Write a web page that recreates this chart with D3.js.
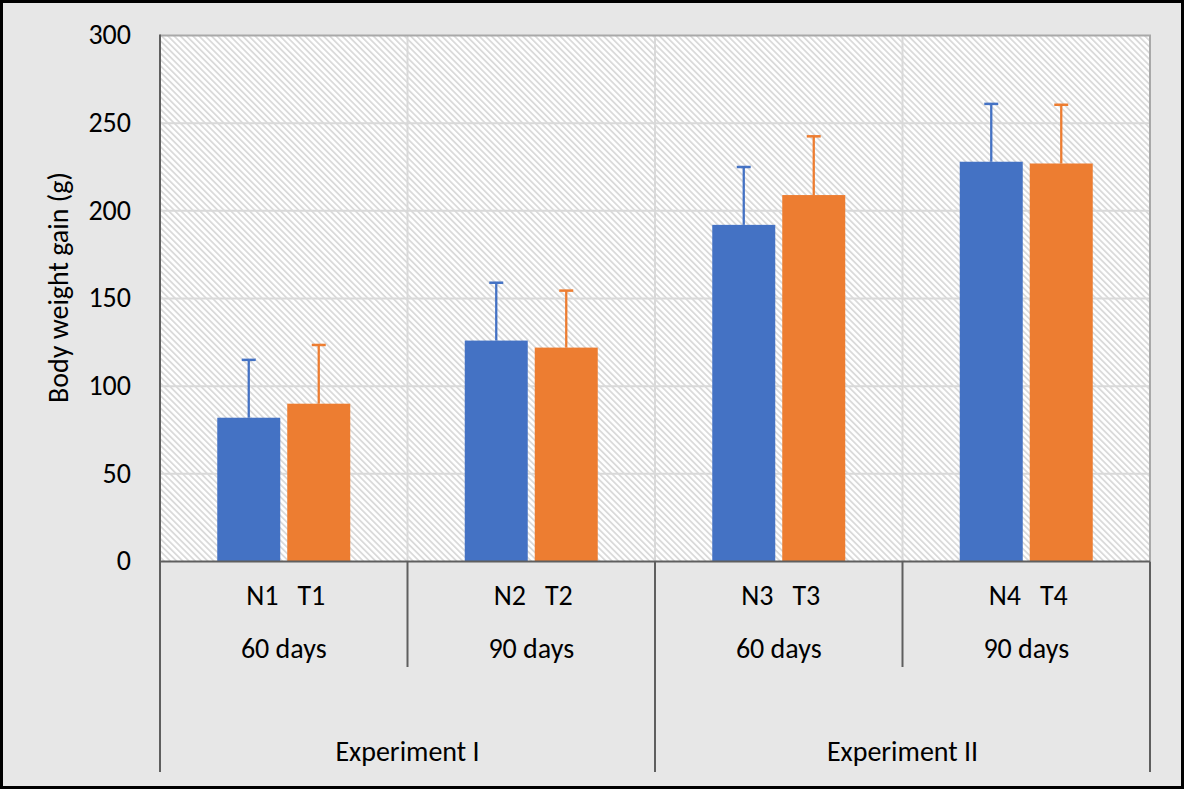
<!DOCTYPE html>
<html>
<head>
<meta charset="utf-8">
<script src="https://cdn.jsdelivr.net/npm/d3@7"></script>
<style>
  html, body { margin: 0; padding: 0; background: #fff; }
  svg { display: block; }
  text { font-family: Carlito, Calibri, "Open Sans", sans-serif; fill: #000; }
</style>
</head>
<body>
<svg id="chart" width="1184" height="789"></svg>
<script>
// ---- data ----
const groups = ["N1   T1", "N2   T2", "N3   T3", "N4   T4"];
const periods = ["60 days", "90 days", "60 days", "90 days"];
const experiments = ["Experiment I", "Experiment II"];
const seriesNames = ["N", "T"];
const valuesN = [82, 126, 192, 228];
const valuesT = [90, 122, 209, 227];
const errorsN = [33, 33, 33, 33];
const errorsT = [33.5, 32.5, 33.5, 33.5];
const yTicks = [0, 50, 100, 150, 200, 250, 300];
const yTitle = "Body weight gain (g)";

// ---- layout ----
const W = 1184, H = 789;
const plot = { left: 160, right: 1150, top: 35.5, bottom: 561.5 };
const colors = { N: "#4472C4", T: "#ED7D31" };
const axisColor = "#5f5f5f";
const gridColor = "#d9d9d9";
const fontSize = 28;

const svg = d3.select("#chart");

// background + outer border
svg.append("rect").attr("x", 0).attr("y", 0).attr("width", W).attr("height", H).attr("fill", "#e7e7e7");
svg.append("rect").attr("x", 1.5).attr("y", 1.5).attr("width", W - 3).attr("height", H - 3)
  .attr("fill", "none").attr("stroke", "#000").attr("stroke-width", 3);

// hatch pattern
const defs = svg.append("defs");
const pat = defs.append("pattern").attr("id", "hatch").attr("patternUnits", "userSpaceOnUse")
  .attr("width", 4.4).attr("height", 4.4).attr("patternTransform", "rotate(-45)");
pat.append("rect").attr("width", 4.4).attr("height", 4.4).attr("fill", "#ffffff");
pat.append("rect").attr("x", 0).attr("width", 1.8).attr("height", 4.4).attr("fill", "#dadada");

// scales
const x0 = d3.scaleBand().domain(groups).range([plot.left, plot.right]).padding(0);
const step = x0.bandwidth();
const x1 = d3.scaleBand().domain(seriesNames).range([0, step]).paddingInner(0.1).paddingOuter(0.818);
const y = d3.scaleLinear().domain([0, 300]).range([plot.bottom, plot.top]);
const xExp = d3.scaleBand().domain(experiments).range([plot.left, plot.right]).padding(0);

// plot area
svg.append("rect").attr("x", plot.left).attr("y", plot.top)
  .attr("width", plot.right - plot.left).attr("height", plot.bottom - plot.top)
  .attr("fill", "url(#hatch)");

// horizontal gridlines
svg.append("g").selectAll("line").data(yTicks.filter(d => d > 0 && d < 300)).join("line")
  .attr("x1", plot.left).attr("x2", plot.right)
  .attr("y1", d => y(d)).attr("y2", d => y(d))
  .attr("stroke", gridColor).attr("stroke-width", 2);

// vertical gridlines at group boundaries
svg.append("g").selectAll("line").data(groups.slice(1)).join("line")
  .attr("x1", d => x0(d)).attr("x2", d => x0(d))
  .attr("y1", plot.top).attr("y2", plot.bottom)
  .attr("stroke", gridColor).attr("stroke-width", 2);

// plot border (top & right)
svg.append("path")
  .attr("d", `M${plot.left},${plot.top}H${plot.right}V${plot.bottom}`)
  .attr("fill", "none").attr("stroke", "#a9a9a9").attr("stroke-width", 2);

// bars
const rows = groups.map((g, i) => ({
  group: g,
  items: [
    { s: "N", v: valuesN[i], e: errorsN[i] },
    { s: "T", v: valuesT[i], e: errorsT[i] }
  ]
}));

const gg = svg.append("g").selectAll("g").data(rows).join("g")
  .attr("transform", d => `translate(${x0(d.group)},0)`);

gg.selectAll("rect.bar").data(d => d.items).join("rect").attr("class", "bar")
  .attr("x", d => x1(d.s)).attr("width", x1.bandwidth())
  .attr("y", d => y(d.v)).attr("height", d => y(0) - y(d.v))
  .attr("fill", d => colors[d.s]);

// error bars (upper only)
const capW = 14;
gg.selectAll("line.err").data(d => d.items).join("line").attr("class", "err")
  .attr("x1", d => x1(d.s) + x1.bandwidth() / 2).attr("x2", d => x1(d.s) + x1.bandwidth() / 2)
  .attr("y1", d => y(d.v)).attr("y2", d => y(d.v + d.e))
  .attr("stroke", d => colors[d.s]).attr("stroke-width", 2.3);
gg.selectAll("line.cap").data(d => d.items).join("line").attr("class", "cap")
  .attr("x1", d => x1(d.s) + x1.bandwidth() / 2 - capW / 2).attr("x2", d => x1(d.s) + x1.bandwidth() / 2 + capW / 2)
  .attr("y1", d => y(d.v + d.e)).attr("y2", d => y(d.v + d.e))
  .attr("stroke", d => colors[d.s]).attr("stroke-width", 2.5);

// y axis ticks
const yAxis = d3.axisLeft(y).tickValues(yTicks).tickSize(0).tickPadding(29);
const ya = svg.append("g").attr("transform", `translate(${plot.left},0)`).call(yAxis);
ya.select(".domain").remove();
ya.selectAll("text").attr("font-size", fontSize).attr("font-family", null).attr("fill", "#000").attr("dy", "0.3em");

// axis lines
const bottomEnd = 772, subEnd = 667;
svg.append("line").attr("x1", plot.left).attr("x2", plot.left).attr("y1", plot.top - 1).attr("y2", bottomEnd)
  .attr("stroke", axisColor).attr("stroke-width", 2);
svg.append("line").attr("x1", plot.left).attr("x2", plot.right).attr("y1", plot.bottom).attr("y2", plot.bottom)
  .attr("stroke", axisColor).attr("stroke-width", 2);
// long separators (experiment boundaries)
svg.append("g").selectAll("line").data(experiments.slice(1).map(e => xExp(e)).concat([plot.right])).join("line")
  .attr("x1", d => d).attr("x2", d => d).attr("y1", plot.bottom).attr("y2", bottomEnd)
  .attr("stroke", axisColor).attr("stroke-width", 2);
// short separators (within experiments)
svg.append("g").selectAll("line").data([groups[1], groups[3]]).join("line")
  .attr("x1", d => x0(d)).attr("x2", d => x0(d)).attr("y1", plot.bottom).attr("y2", subEnd)
  .attr("stroke", axisColor).attr("stroke-width", 2);

// category labels
svg.append("g").selectAll("text").data(groups).join("text")
  .attr("x", d => x0(d) + step / 2 + 2).attr("y", 605)
  .attr("text-anchor", "middle").attr("font-size", fontSize)
  .style("white-space", "pre").attr("xml:space", "preserve")
  .text(d => d);
svg.append("g").selectAll("text").data(periods).join("text")
  .attr("x", (d, i) => x0(groups[i]) + step / 2).attr("y", 658)
  .attr("text-anchor", "middle").attr("font-size", fontSize)
  .text(d => d);
svg.append("g").selectAll("text").data(experiments).join("text")
  .attr("x", d => xExp(d) + xExp.bandwidth() / 2).attr("y", 761)
  .attr("text-anchor", "middle").attr("font-size", fontSize)
  .text(d => d);

// y title
svg.append("text").attr("transform", "translate(68,287.5) rotate(-90)")
  .attr("text-anchor", "middle").attr("font-size", fontSize)
  .text(yTitle);
</script>
</body>
</html>
